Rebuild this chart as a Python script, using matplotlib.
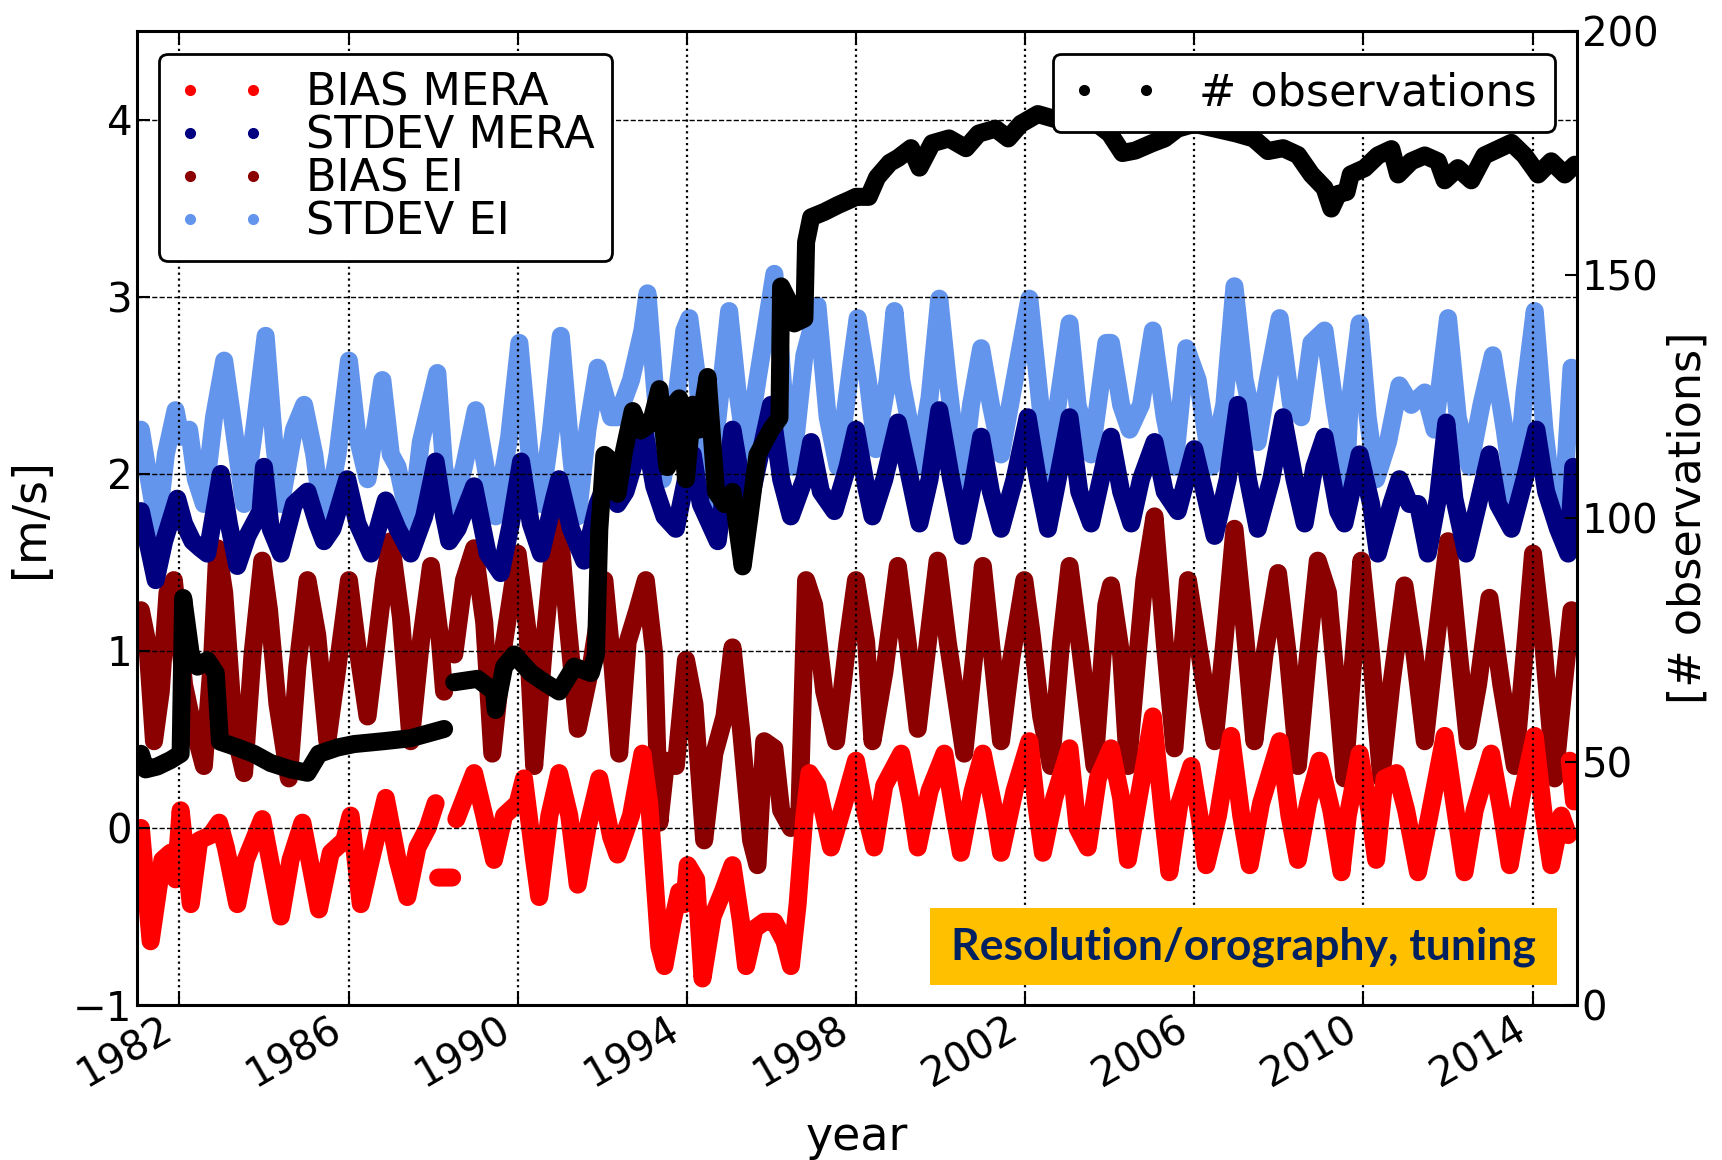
import numpy as np
import matplotlib
matplotlib.use("Agg")
import matplotlib.pyplot as plt
from matplotlib.lines import Line2D
from matplotlib.patches import Rectangle

nan = np.nan

# (decimal year, value); nan marks a gap in the record
bias_mera = [
    (1981.09, 0.00), (1981.32, -0.64), (1981.60, -0.18), (1981.79, -0.14), (1981.91, -0.29),
    (1982.03, 0.10), (1982.27, -0.43), (1982.47, -0.07), (1982.74, -0.04), (1982.94, 0.03),
    (1983.10, -0.11), (1983.37, -0.43), (1983.57, -0.18), (1983.96, 0.05), (1984.40, -0.50),
    (1984.63, -0.18), (1984.91, 0.03), (1985.30, -0.46), (1985.58, -0.14), (1985.90, -0.07),
    (1986.05, 0.07), (1986.29, -0.43), (1986.53, -0.18), (1986.88, 0.17), (1987.16, -0.18),
    (1987.39, -0.39), (1987.63, -0.11), (1987.87, 0.00), (1988.06, 0.14), (1988.09, nan),
    (1988.12, -0.28), (1988.45, -0.28), (1988.50, nan), (1988.55, 0.05), (1988.97, 0.31),
    (1989.21, 0.07), (1989.44, -0.18), (1989.68, 0.07), (1990.00, 0.14), (1990.15, 0.28),
    (1990.39, -0.18), (1990.51, -0.39), (1990.75, 0.07), (1990.98, 0.31), (1991.22, 0.07),
    (1991.42, -0.32), (1991.65, 0.00), (1991.93, 0.28), (1992.21, -0.05), (1992.36, -0.15),
    (1992.68, 0.07), (1992.95, 0.42), (1993.11, 0.14), (1993.35, -0.67), (1993.47, -0.78),
    (1993.66, -0.53), (1993.82, -0.36), (1993.94, -0.43), (1994.02, -0.21), (1994.22, -0.29),
    (1994.37, -0.85), (1994.61, -0.50), (1994.85, -0.36), (1995.08, -0.21), (1995.28, -0.53),
    (1995.40, -0.78), (1995.60, -0.57), (1995.83, -0.53), (1996.07, -0.53), (1996.31, -0.64),
    (1996.46, -0.78), (1996.62, -0.43), (1996.78, 0.07), (1996.90, 0.31), (1997.09, 0.24),
    (1997.41, -0.11), (1997.72, 0.14), (1998.00, 0.38), (1998.24, 0.07), (1998.43, -0.11),
    (1998.67, 0.24), (1999.07, 0.42), (1999.30, 0.14), (1999.46, -0.11), (1999.74, 0.21),
    (2000.09, 0.42), (2000.33, 0.07), (2000.48, -0.14), (2000.76, 0.21), (2001.00, 0.42),
    (2001.27, 0.10), (2001.43, -0.14), (2001.75, 0.21), (2002.10, 0.49), (2002.26, 0.14),
    (2002.42, -0.14), (2002.69, 0.17), (2003.05, 0.45), (2003.24, 0.00), (2003.48, -0.11),
    (2003.72, 0.28), (2004.03, 0.45), (2004.27, 0.17), (2004.43, -0.18), (2004.66, 0.14),
    (2005.02, 0.63), (2005.26, 0.07), (2005.41, -0.25), (2005.65, 0.14), (2005.93, 0.35),
    (2006.12, 0.07), (2006.28, -0.21), (2006.56, 0.07), (2006.87, 0.52), (2007.11, 0.07),
    (2007.31, -0.21), (2007.58, 0.14), (2008.02, 0.49), (2008.25, 0.07), (2008.45, -0.18),
    (2008.69, 0.14), (2008.96, 0.38), (2009.24, 0.10), (2009.48, -0.25), (2009.63, 0.07),
    (2009.91, 0.42), (2010.14, 0.10), (2010.30, -0.18), (2010.50, 0.28), (2010.78, 0.31),
    (2011.01, 0.10), (2011.29, -0.25), (2011.56, 0.07), (2011.92, 0.52), (2012.15, 0.14),
    (2012.39, -0.25), (2012.63, 0.10), (2013.02, 0.42), (2013.26, 0.10), (2013.46, -0.21),
    (2013.73, 0.17), (2014.05, 0.52), (2014.25, 0.10), (2014.44, -0.21), (2014.68, 0.07),
    (2014.84, -0.04), (2014.86, nan), (2014.88, 0.38), (2014.98, 0.15),
]

stdev_mera = [
    (1981.09, 1.79), (1981.28, 1.58), (1981.44, 1.40), (1981.64, 1.62), (1981.95, 1.86),
    (1982.11, 1.72), (1982.31, 1.62), (1982.50, 1.58), (1982.66, 1.55), (1982.86, 1.83),
    (1982.98, 2.00), (1983.17, 1.72), (1983.37, 1.48), (1983.61, 1.65), (1983.92, 1.79),
    (1984.00, 2.04), (1984.16, 1.69), (1984.40, 1.55), (1984.71, 1.83), (1985.03, 1.90),
    (1985.26, 1.72), (1985.42, 1.62), (1985.62, 1.69), (1985.97, 1.97), (1986.21, 1.72),
    (1986.53, 1.55), (1986.88, 1.85), (1987.16, 1.69), (1987.47, 1.55), (1987.79, 1.76),
    (1988.06, 2.07), (1988.26, 1.76), (1988.38, 1.62), (1988.58, 1.69), (1988.97, 1.93),
    (1989.29, 1.55), (1989.60, 1.44), (1989.84, 1.72), (1990.08, 2.07), (1990.31, 1.72),
    (1990.55, 1.55), (1990.86, 1.86), (1990.98, 1.97), (1991.26, 1.69), (1991.57, 1.51),
    (1991.89, 1.83), (1992.13, 1.97), (1992.36, 1.83), (1992.55, 1.90), (1992.99, 2.25),
    (1993.23, 1.93), (1993.47, 1.76), (1993.74, 1.69), (1993.98, 1.97), (1994.14, 2.11),
    (1994.33, 1.83), (1994.73, 1.62), (1995.08, 2.25), (1995.28, 1.97), (1995.48, 1.83),
    (1995.67, 2.04), (1995.99, 2.39), (1996.23, 1.97), (1996.46, 1.76), (1996.78, 1.97),
    (1996.94, 2.18), (1997.17, 1.90), (1997.49, 1.79), (1997.80, 2.04), (1998.00, 2.25),
    (1998.24, 1.93), (1998.39, 1.76), (1998.67, 1.97), (1998.99, 2.29), (1999.22, 2.04),
    (1999.50, 1.72), (1999.74, 1.97), (1999.97, 2.36), (2000.25, 1.97), (2000.52, 1.65),
    (2000.76, 1.93), (2000.96, 2.21), (2001.19, 1.90), (2001.43, 1.69), (2001.75, 1.97),
    (2002.06, 2.32), (2002.30, 1.97), (2002.54, 1.69), (2002.77, 1.97), (2003.05, 2.32),
    (2003.28, 1.90), (2003.56, 1.72), (2003.92, 2.11), (2004.03, 2.21), (2004.27, 1.90),
    (2004.51, 1.72), (2004.74, 1.97), (2005.06, 2.18), (2005.30, 1.90), (2005.61, 1.79),
    (2006.00, 2.14), (2006.24, 1.90), (2006.48, 1.65), (2006.79, 1.97), (2007.03, 2.39),
    (2007.27, 1.97), (2007.50, 1.69), (2007.82, 1.97), (2008.10, 2.32), (2008.37, 1.97),
    (2008.61, 1.72), (2008.84, 2.04), (2009.08, 2.21), (2009.40, 1.79), (2009.55, 1.72),
    (2009.91, 2.11), (2010.18, 1.83), (2010.34, 1.55), (2010.66, 1.83), (2010.85, 1.97),
    (2011.09, 1.83), (2011.29, 1.83), (2011.52, 1.55), (2011.76, 1.86), (2011.96, 2.29),
    (2012.15, 1.86), (2012.43, 1.55), (2012.71, 1.83), (2012.98, 2.11), (2013.18, 1.83),
    (2013.50, 1.69), (2013.81, 1.97), (2014.09, 2.25), (2014.32, 1.90), (2014.60, 1.69),
    (2014.84, 1.55), (2014.96, 2.04),
]

bias_ei = [
    (1981.09, 1.23), (1981.24, 1.05), (1981.40, 0.49), (1981.56, 0.77), (1981.72, 1.33),
    (1981.87, 1.40), (1981.99, 1.12), (1982.11, 0.81), (1982.27, 0.63), (1982.58, 0.35),
    (1982.78, 0.98), (1982.90, 1.58), (1983.06, 1.33), (1983.29, 0.56), (1983.53, 0.31),
    (1983.73, 0.98), (1983.96, 1.51), (1984.12, 1.23), (1984.32, 0.70), (1984.59, 0.28),
    (1984.79, 0.91), (1985.03, 1.40), (1985.26, 1.09), (1985.50, 0.49), (1985.74, 0.91),
    (1986.01, 1.40), (1986.21, 1.02), (1986.45, 0.63), (1986.84, 1.40), (1987.00, 1.62),
    (1987.24, 1.19), (1987.47, 0.49), (1987.71, 1.05), (1987.95, 1.48), (1988.14, 1.12),
    (1988.26, 0.77), (1988.33, nan), (1988.50, 0.98), (1988.73, 1.40), (1988.97, 1.58),
    (1989.21, 1.16), (1989.40, 0.42), (1989.68, 1.05), (1990.00, 1.55), (1990.23, 1.12),
    (1990.39, 0.35), (1990.63, 1.05), (1990.94, 1.83), (1991.18, 1.16), (1991.42, 0.56),
    (1991.73, 0.91), (1992.05, 1.40), (1992.25, 0.90), (1992.40, 0.42), (1992.60, 1.05),
    (1992.83, 1.23), (1993.03, 1.40), (1993.23, 0.98), (1993.35, 0.03), (1993.51, 0.38),
    (1993.74, 0.35), (1993.98, 0.95), (1994.18, 0.70), (1994.41, -0.07), (1994.65, 0.42),
    (1994.89, 0.63), (1995.08, 1.02), (1995.28, 0.56), (1995.52, -0.07), (1995.67, -0.21),
    (1995.83, 0.49), (1996.07, 0.45), (1996.23, 0.10), (1996.46, 0.00), (1996.66, 0.07),
    (1996.82, 1.40), (1997.01, 1.26), (1997.25, 0.77), (1997.53, 0.49), (1997.80, 1.05),
    (1998.00, 1.40), (1998.24, 1.05), (1998.39, 0.49), (1998.67, 0.88), (1998.99, 1.48),
    (1999.22, 1.05), (1999.46, 0.56), (1999.70, 1.05), (1999.93, 1.51), (2000.17, 1.05),
    (2000.56, 0.42), (2000.80, 0.98), (2001.00, 1.48), (2001.19, 1.05), (2001.43, 0.49),
    (2001.67, 0.95), (2001.98, 1.40), (2002.14, 1.12), (2002.38, 0.63), (2002.61, 0.35),
    (2002.85, 1.05), (2003.05, 1.48), (2003.32, 0.98), (2003.64, 0.35), (2003.92, 1.26),
    (2004.03, 1.37), (2004.27, 0.98), (2004.43, 0.35), (2004.66, 0.98), (2004.82, 1.40),
    (2005.06, 1.76), (2005.30, 1.05), (2005.53, 0.45), (2005.85, 1.40), (2006.08, 1.05),
    (2006.24, 0.81), (2006.48, 0.49), (2006.71, 1.05), (2006.95, 1.69), (2007.19, 1.12),
    (2007.42, 0.49), (2007.66, 0.98), (2007.98, 1.44), (2008.21, 0.98), (2008.45, 0.35),
    (2008.69, 0.98), (2008.92, 1.51), (2009.16, 1.33), (2009.40, 0.70), (2009.55, 0.28),
    (2009.70, 0.77), (2009.95, 1.51), (2010.18, 0.98), (2010.42, 0.28), (2010.66, 0.81),
    (2010.97, 1.37), (2011.21, 0.98), (2011.45, 0.49), (2011.68, 0.98), (2012.00, 1.62),
    (2012.23, 1.05), (2012.47, 0.49), (2012.71, 0.81), (2012.98, 1.30), (2013.26, 0.81),
    (2013.58, 0.35), (2013.81, 0.98), (2014.01, 1.55), (2014.25, 1.05), (2014.52, 0.28),
    (2014.72, 0.77), (2014.92, 1.23),
]

stdev_ei = [
    (1981.09, 2.25), (1981.28, 1.97), (1981.48, 1.69), (1981.68, 2.11), (1981.91, 2.36),
    (1982.03, 2.21), (1982.23, 2.25), (1982.39, 1.97), (1982.58, 1.83), (1982.82, 2.32),
    (1983.06, 2.64), (1983.29, 2.25), (1983.53, 1.83), (1983.77, 2.25), (1984.04, 2.78),
    (1984.24, 2.18), (1984.40, 1.83), (1984.71, 2.25), (1984.95, 2.39), (1985.19, 2.11),
    (1985.42, 1.69), (1985.74, 2.11), (1986.01, 2.64), (1986.21, 2.21), (1986.45, 1.97),
    (1986.80, 2.53), (1987.00, 2.11), (1987.16, 2.04), (1987.47, 1.69), (1987.71, 2.18),
    (1988.10, 2.57), (1988.26, 2.04), (1988.46, 1.79), (1988.73, 2.04), (1989.01, 2.36),
    (1989.29, 1.97), (1989.48, 1.76), (1989.80, 2.21), (1990.04, 2.74), (1990.31, 2.04),
    (1990.55, 1.83), (1990.79, 2.25), (1991.02, 2.78), (1991.26, 2.11), (1991.42, 1.76),
    (1991.65, 2.25), (1991.89, 2.60), (1992.21, 2.32), (1992.36, 2.32), (1992.68, 2.53),
    (1992.95, 2.81), (1993.07, 3.02), (1993.23, 2.53), (1993.43, 1.97), (1993.70, 2.32),
    (1993.94, 2.81), (1994.06, 2.88), (1994.25, 2.53), (1994.49, 1.83), (1994.73, 2.32),
    (1995.00, 2.92), (1995.20, 2.46), (1995.40, 2.11), (1995.67, 2.53), (1996.07, 3.13),
    (1996.31, 2.39), (1996.50, 2.04), (1996.78, 2.67), (1997.09, 2.95), (1997.33, 2.32),
    (1997.57, 2.04), (1997.88, 2.60), (1998.04, 2.88), (1998.28, 2.53), (1998.47, 2.14),
    (1998.75, 2.53), (1998.91, 2.92), (1999.07, 2.53), (1999.46, 2.04), (1999.74, 2.43),
    (1999.97, 2.99), (2000.17, 2.53), (2000.48, 1.90), (2000.72, 2.39), (2000.96, 2.71),
    (2001.19, 2.39), (2001.43, 2.11), (2001.75, 2.53), (2002.10, 2.99), (2002.30, 2.53),
    (2002.54, 1.97), (2002.77, 2.39), (2003.05, 2.85), (2003.24, 2.39), (2003.56, 2.11),
    (2003.92, 2.74), (2004.03, 2.74), (2004.27, 2.39), (2004.47, 2.25), (2004.74, 2.39),
    (2005.02, 2.81), (2005.30, 2.32), (2005.53, 2.04), (2005.81, 2.71), (2006.08, 2.53),
    (2006.40, 2.04), (2006.71, 2.39), (2006.95, 3.06), (2007.19, 2.53), (2007.50, 2.18),
    (2007.74, 2.53), (2008.02, 2.88), (2008.29, 2.39), (2008.53, 2.32), (2008.77, 2.74),
    (2009.08, 2.81), (2009.32, 2.39), (2009.59, 1.97), (2009.67, 2.39), (2009.91, 2.85),
    (2010.10, 2.32), (2010.30, 1.97), (2010.58, 2.18), (2010.85, 2.50), (2011.13, 2.39),
    (2011.45, 2.46), (2011.68, 2.25), (2012.00, 2.88), (2012.23, 2.32), (2012.51, 2.04),
    (2012.79, 2.39), (2013.06, 2.67), (2013.34, 2.25), (2013.58, 1.83), (2013.81, 2.46),
    (2014.05, 2.92), (2014.28, 2.25), (2014.52, 1.76), (2014.76, 1.97), (2014.92, 2.60),
]

n_obs = [
    (1981.09, 51.6), (1981.20, 48.4), (1981.48, 49.0), (1981.79, 50.3), (1982.03, 51.6),
    (1982.09, 83.6), (1982.27, 72.0), (1982.43, 69.5), (1982.66, 70.8), (1982.86, 68.2),
    (1982.96, 54.1), (1983.37, 52.9), (1983.76, 51.6), (1984.16, 49.7), (1984.63, 48.4),
    (1985.03, 47.7), (1985.30, 51.6), (1985.74, 52.9), (1986.13, 53.6), (1986.84, 54.2),
    (1987.47, 54.8), (1988.26, 56.7), (1988.38, nan), (1988.50, 66.3), (1989.05, 67.0),
    (1989.44, 64.4), (1989.48, 60.6), (1989.68, 69.5), (1989.92, 72.0), (1990.31, 68.2),
    (1990.63, 66.3), (1990.98, 64.4), (1991.34, 69.5), (1991.73, 68.2), (1991.85, 72.0),
    (1991.93, 97.7), (1992.05, 113.0), (1992.21, 111.8), (1992.36, 105.0), (1992.52, 114.0),
    (1992.72, 122.0), (1992.91, 118.0), (1993.15, 119.5), (1993.35, 126.5), (1993.54, 110.5),
    (1993.70, 123.3), (1993.82, 124.6), (1993.98, 108.0), (1994.14, 123.3), (1994.29, 118.2),
    (1994.49, 129.0), (1994.69, 105.4), (1994.89, 102.9), (1995.08, 105.4), (1995.32, 90.1),
    (1995.48, 100.3), (1995.67, 113.0), (1995.99, 118.2), (1996.19, 120.6), (1996.23, 147.6),
    (1996.38, 145.0), (1996.54, 140.0), (1996.78, 141.0), (1996.82, 156.7), (1996.94, 161.8),
    (1997.25, 162.9), (1997.57, 164.3), (1997.88, 165.5), (1998.00, 166.0), (1998.30, 166.0),
    (1998.50, 170.0), (1998.80, 173.0), (1999.00, 174.0), (1999.30, 176.0), (1999.50, 172.0),
    (1999.80, 177.0), (2000.20, 178.0), (2000.60, 176.0), (2000.90, 179.0), (2001.30, 180.0),
    (2001.60, 178.0), (2001.90, 181.0), (2002.30, 183.0), (2002.70, 182.0), (2003.00, 183.0),
    (2003.30, 182.0), (2003.70, 181.0), (2004.00, 179.0), (2004.30, 175.0), (2004.60, 175.5),
    (2005.00, 177.0), (2005.30, 178.0), (2005.60, 180.0), (2006.00, 181.0), (2006.50, 180.0),
    (2007.00, 179.0), (2007.40, 178.0), (2007.74, 175.4), (2008.10, 176.0), (2008.45, 174.6),
    (2008.77, 170.6), (2009.08, 167.8), (2009.24, 163.6), (2009.40, 166.6), (2009.60, 167.0),
    (2009.70, 170.6), (2010.03, 171.9), (2010.34, 174.5), (2010.66, 175.8), (2010.82, 170.6),
    (2011.13, 173.3), (2011.45, 174.5), (2011.76, 173.3), (2011.92, 169.4), (2012.23, 171.9),
    (2012.55, 169.4), (2012.86, 174.5), (2013.18, 175.8), (2013.50, 177.1), (2013.81, 174.5),
    (2014.13, 170.6), (2014.44, 173.3), (2014.76, 170.6), (2015.00, 172.6),
]

year_ticks = [1982, 1986, 1990, 1994, 1998, 2002, 2006, 2010, 2014]
labels = ["BIAS MERA", "STDEV MERA", "BIAS EI", "STDEV EI"]
colors = ["#ff0000", "#000080", "#8b0000", "#6495ed"]

fig = plt.figure(figsize=(17.22, 11.6), dpi=100)
ax = fig.add_axes([0.0796, 0.1336, 0.8362, 0.8394])

LW = 13
order = [(stdev_ei, 3), (bias_ei, 2), (stdev_mera, 1), (bias_mera, 0)]
for data, i in order:
    t, v = np.array(data).T
    ax.plot(t, v, "-", color=colors[i], lw=LW, solid_joinstyle="round", solid_capstyle="round")

ax.set_xlim(1981.0, 2015.05)
ax.set_ylim(-1, 4.5)
ax.set_yticks([-1, 0, 1, 2, 3, 4])
ax.set_xticks(year_ticks)
ax.set_xticklabels([str(y) for y in year_ticks], rotation=30, ha="right")
ax.set_axisbelow(False)
ax.xaxis.grid(True, ls=":", color="k", lw=1.6)
ax.yaxis.grid(True, ls="--", color="k", lw=1.0)
ax.tick_params(direction="in", length=9, width=1.5, labelsize=29, top=True)
ax.set_xlabel("year", fontsize=33, labelpad=14)
ax.set_ylabel("[m/s]", fontsize=33, labelpad=14)
for s in ax.spines.values():
    s.set_linewidth(2.2)

handles = [Line2D([], [], ls="none", marker="o", ms=7, color=c) for c in colors]
leg = ax.legend(handles, labels, loc="upper left", numpoints=2, fontsize=32,
                labelspacing=0.0, handletextpad=0.9, fancybox=True, framealpha=1)
leg.get_frame().set_edgecolor("k")
leg.get_frame().set_linewidth(2)

ax2 = ax.twinx()
t, v = np.array(n_obs).T
ax2.plot(t, v, "-", color="k", lw=LW, solid_joinstyle="round", solid_capstyle="round")
ax2.set_ylim(0, 200)
ax2.set_yticks([0, 50, 100, 150, 200])
ax2.tick_params(direction="in", length=9, width=1.5, labelsize=29)
ax2.set_ylabel("[# observations]", fontsize=32, labelpad=6)

h2 = [Line2D([], [], ls="none", marker="o", ms=7, color="k")]
leg2 = ax2.legend(h2, ["# observations"], loc="upper right", numpoints=2, fontsize=32,
                  handletextpad=0.9, fancybox=True, framealpha=1)
leg2.get_frame().set_edgecolor("k")
leg2.get_frame().set_linewidth(2)

ax2.add_patch(Rectangle((0.551, 0.0205), 0.435, 0.079, transform=ax2.transAxes,
                        facecolor="#ffc000", edgecolor="none", zorder=10))
ax2.text(0.7685, 0.060, "Resolution/orography, tuning", transform=ax2.transAxes,
         ha="center", va="center", fontsize=32, fontweight="bold", family="Lato",
         color="#002060", zorder=11)

fig.savefig("out.png", dpi=100)
